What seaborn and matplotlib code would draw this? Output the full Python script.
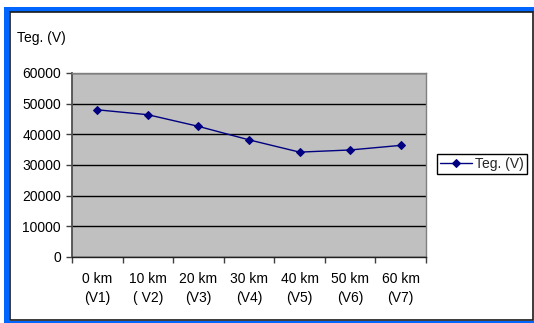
import matplotlib
matplotlib.use("Agg")
import matplotlib.pyplot as plt
from matplotlib.patches import Rectangle
import seaborn as sns
import pandas as pd
import numpy as np

# Voltage along the line, measured at each station
categories = ["0 km\n(V1)", "10 km\n( V2)", "20 km\n(V3)", "30 km\n(V4)",
              "40 km\n(V5)", "50 km\n(V6)", "60 km\n(V7)"]
voltages = [48000, 46400, 42600, 38200, 34200, 34900, 36400]
y_ticks = [0, 10000, 20000, 30000, 40000, 50000, 60000]
series_name = "Teg. (V)"

df = pd.DataFrame({"pos": np.arange(len(categories)), "value": voltages,
                   "series": series_name})

sns.set_theme(style="white")
plt.rcParams["font.family"] = ["Liberation Sans", "DejaVu Sans"]

FS = 10
W, H = 534, 323
fig = plt.figure(figsize=(W / 100, H / 100), dpi=100)
fig.patch.set_facecolor("white")


def px_rect(x0, y0, x1, y1, **kw):
    """Rectangle given in pixel coordinates measured from the top-left."""
    return Rectangle((x0 / W, 1 - y1 / H), (x1 - x0) / W, (y1 - y0) / H,
                     transform=fig.transFigure, **kw)


blue = "#0066FF"
fig.patches.extend([
    px_rect(4, 7, W, 11.5, facecolor=blue, edgecolor="none"),
    px_rect(4, 7, 9.5, H, facecolor=blue, edgecolor="none"),
    px_rect(4, 320.5, W, H, facecolor=blue, edgecolor="none"),
    px_rect(10, 12, 532.5, 320, facecolor="none", edgecolor="#1a1a1a", lw=1.2),
])

ax = fig.add_axes([72 / W, 1 - 257 / H, 354 / W, (257 - 73) / H])
ax.set_facecolor("#C0C0C0")

sns.lineplot(data=df, x="pos", y="value", hue="series", palette=["#000080"],
             marker="D", markersize=4.3, markeredgecolor="#000080", lw=1.0,
             ax=ax, legend=True)

ax.set_xlim(-0.5, len(categories) - 0.5)
ax.set_ylim(0, 60000)
ax.set_yticks(y_ticks)
ax.set_yticklabels([str(v) for v in y_ticks], fontsize=FS, color="black")
ax.yaxis.grid(True, color="black", lw=1)
ax.set_axisbelow(True)

# Tick marks sit between categories; labels sit at category centers
ax.set_xticks(np.arange(-0.5, len(categories)), labels=[""] * (len(categories) + 1))
ax.set_xticks(np.arange(len(categories)), labels=categories, minor=True)
ax.tick_params(axis="x", which="major", direction="out", length=4, width=1,
               color="#404040", bottom=True)
ax.tick_params(axis="x", which="minor", length=0, pad=11, labelsize=FS,
               labelcolor="black")
for lab in ax.get_xticklabels(minor=True):
    lab.set_linespacing(1.45)
ax.tick_params(axis="y", direction="out", length=4, width=1, color="#404040",
               left=True, pad=4)
ax.set_xlabel("")
ax.set_ylabel("")

for side in ["top", "right"]:
    ax.spines[side].set_color("#808080")
    ax.spines[side].set_linewidth(1)
ax.spines["left"].set_color("#505050")
ax.spines["left"].set_linewidth(1.3)
ax.spines["bottom"].set_color("#202020")
ax.spines["bottom"].set_linewidth(1)

fig.text(17 / W, 1 - 38 / H, series_name, fontsize=FS, va="center", ha="left",
         color="black")

handles, labels = ax.get_legend_handles_labels()
ax.get_legend().remove()
leg = fig.legend(handles, labels, loc="center left",
                 bbox_to_anchor=(437 / W, 1 - 164 / H), fontsize=FS,
                 frameon=True, fancybox=False, framealpha=1, edgecolor="black",
                 borderpad=0.25, handlelength=2.3, handletextpad=0.2,
                 borderaxespad=0)
leg.get_frame().set_linewidth(1)

fig.savefig("out.png", dpi=100, facecolor="white")
